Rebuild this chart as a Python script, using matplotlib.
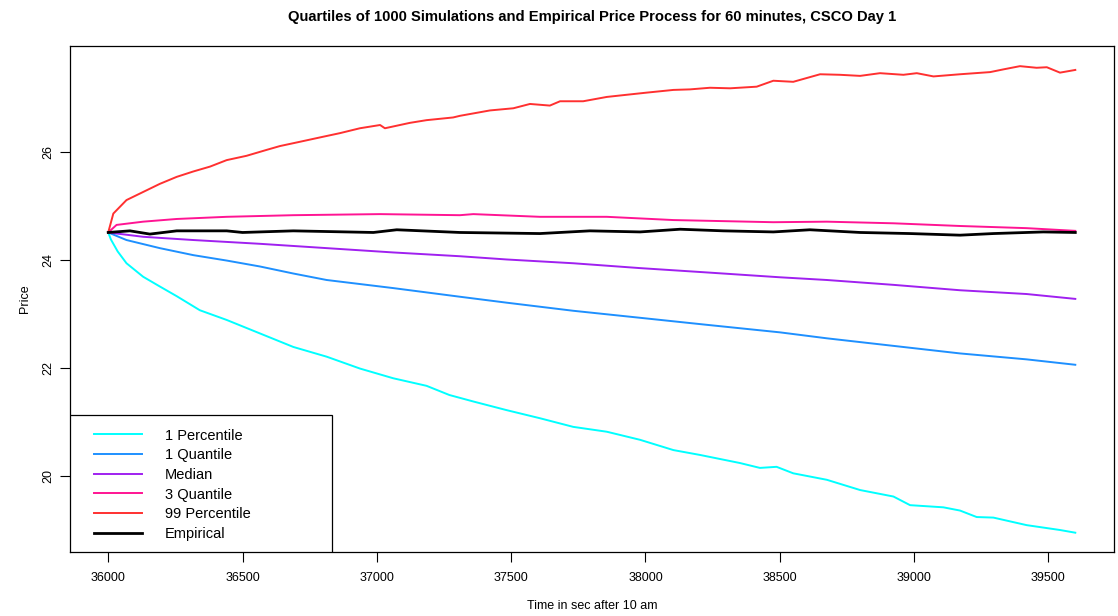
import matplotlib

matplotlib.use("Agg")

import matplotlib.pyplot as plt
from matplotlib.patches import Rectangle

plt.rcParams["font.family"] = ["Liberation Sans", "DejaVu Sans"]

# values (time in sec, price)
p99_t = [36000, 36019, 36068, 36130, 36192, 36255, 36317, 36379, 36441, 36515,
         36590, 36639, 36714, 36788, 36863, 36937, 37012, 37030, 37123, 37185,
         37284, 37309, 37421, 37508, 37570, 37644, 37682, 37768, 37856, 37930,
         38005, 38104, 38166, 38240, 38315, 38414, 38476, 38550, 38650, 38724,
         38799, 38873, 38960, 39010, 39072, 39171, 39283, 39332, 39394, 39456,
         39494, 39543, 39600]
p99 = [24.51, 24.86, 25.11, 25.26, 25.41, 25.54, 25.64, 25.73, 25.85, 25.93,
       26.04, 26.11, 26.19, 26.27, 26.35, 26.44, 26.50, 26.44, 26.54, 26.59,
       26.64, 26.67, 26.77, 26.81, 26.89, 26.86, 26.94, 26.94, 27.02, 27.06,
       27.10, 27.15, 27.16, 27.19, 27.18, 27.21, 27.32, 27.30, 27.44, 27.43,
       27.41, 27.46, 27.43, 27.46, 27.40, 27.44, 27.48, 27.53, 27.59, 27.56,
       27.57, 27.47, 27.52]

q3_t = [36000, 36031, 36130, 36255, 36441, 36689, 37012, 37309, 37359, 37607,
        37856, 38104, 38476, 38675, 38923, 39171, 39419, 39600]
q3 = [24.51, 24.65, 24.71, 24.76, 24.80, 24.83, 24.85, 24.83, 24.85, 24.80,
      24.80, 24.74, 24.70, 24.71, 24.68, 24.63, 24.59, 24.54]

med_t = [36000, 36130, 36317, 36565, 36813, 37061, 37309, 37483, 37731, 37980,
         38228, 38501, 38675, 38923, 39171, 39419, 39600]
med = [24.51, 24.43, 24.37, 24.30, 24.22, 24.14, 24.07, 24.01, 23.94, 23.85,
       23.77, 23.68, 23.63, 23.54, 23.44, 23.37, 23.28]

q1_t = [36000, 36068, 36192, 36317, 36441, 36565, 36689, 36813, 37061, 37309,
        37483, 37731, 37980, 38228, 38501, 38675, 38923, 39171, 39419, 39600]
q1 = [24.51, 24.37, 24.22, 24.09, 23.99, 23.88, 23.75, 23.63, 23.48, 23.32,
      23.21, 23.06, 22.93, 22.80, 22.66, 22.55, 22.41, 22.27, 22.16, 22.06]

p1_t = [36000, 36010, 36035, 36068, 36130, 36192, 36255, 36341, 36441, 36565,
        36689, 36813, 36937, 37061, 37185, 37270, 37359, 37483, 37607, 37731,
        37856, 37980, 38104, 38203, 38352, 38426, 38488, 38550, 38675, 38799,
        38923, 38985, 39109, 39171, 39233, 39295, 39419, 39543, 39600]
p1 = [24.51, 24.38, 24.16, 23.94, 23.69, 23.51, 23.33, 23.07, 22.89, 22.64,
      22.39, 22.21, 21.99, 21.81, 21.67, 21.50, 21.38, 21.22, 21.07, 20.91,
      20.82, 20.67, 20.48, 20.39, 20.24, 20.15, 20.17, 20.05, 19.93, 19.74,
      19.62, 19.46, 19.42, 19.36, 19.24, 19.23, 19.09, 19.00, 18.95]

emp_t = [36000, 36081, 36155, 36255, 36441, 36500, 36689, 36987, 37074, 37309,
         37607, 37793, 37980, 38129, 38290, 38476, 38612, 38799, 38985, 39171,
         39295, 39481, 39600]
emp = [24.51, 24.54, 24.48, 24.54, 24.54, 24.51, 24.54, 24.51, 24.56, 24.51,
       24.49, 24.54, 24.52, 24.57, 24.54, 24.52, 24.56, 24.51, 24.49, 24.46,
       24.49, 24.52, 24.51]

labels = ["1 Percentile", "1 Quantile", "Median", "3 Quantile", "99 Percentile", "Empirical"]
colors = ["#00FFFF", "#1E90FF", "#A020F0", "#FF1493", "#FF3030", "#000000"]
series = [(p1_t, p1), (q1_t, q1), (med_t, med), (q3_t, q3), (p99_t, p99), (emp_t, emp)]

fig = plt.figure(figsize=(11.18, 6.16), dpi=100)
ax = fig.add_axes([0.0622, 0.1034, 0.9342, 0.8219])

for (t, v), color, label in zip(series, colors, labels):
    lw = 2.0 if label == "Empirical" else 1.4
    ax.plot(t, v, color=color, linewidth=lw, label=label)

ax.set_xlim(35856, 39744)
ax.set_ylim(18.587, 27.963)
ax.set_xticks([36000, 36500, 37000, 37500, 38000, 38500, 39000, 39500])
ax.set_yticks([20, 22, 24, 26])
ax.tick_params(axis="both", direction="out", length=7, width=0.8, labelsize=9)
ax.tick_params(axis="x", pad=7)
ax.tick_params(axis="y", pad=4)
for lab in ax.get_yticklabels():
    lab.set_rotation(90)
    lab.set_va("center")
for side in ax.spines.values():
    side.set_linewidth(0.9)

ax.set_title("Quartiles of 1000 Simulations and Empirical Price Process for 60 minutes, CSCO Day 1",
             fontsize=10.6, fontweight="bold", pad=18)
ax.set_xlabel("Time in sec after 10 am", fontsize=9, labelpad=12)
ax.set_ylabel("Price", fontsize=9, labelpad=8)

ax.add_patch(Rectangle((0, 0), 0.2513, 0.2712, transform=ax.transAxes, fill=True,
                       facecolor="white", edgecolor="black", linewidth=0.9, zorder=5))
leg = ax.legend(loc="upper left", bbox_to_anchor=(0.018, 0.256), frameon=False,
                fontsize=10.5, handlelength=3.25, handletextpad=1.6, labelspacing=0.39,
                borderaxespad=0)
leg.set_zorder(6)

fig.savefig("out.png", dpi=100)
